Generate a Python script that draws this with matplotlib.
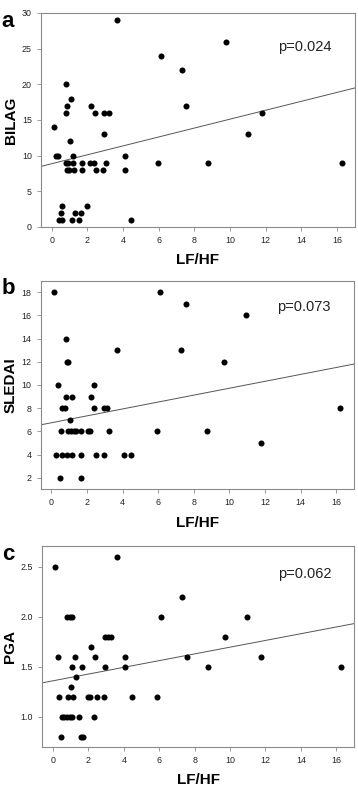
import numpy as np
import matplotlib
matplotlib.use("Agg")
import matplotlib.pyplot as plt

plt.rcParams['font.family'] = ['Liberation Sans', 'DejaVu Sans']

# panel a: LF/HF vs BILAG
lfhf_a = [0.15, 3.65, 6.1, 9.75, 7.3, 7.55, 11.8, 11.0, 8.75, 16.25, 5.95, 4.47,
          4.1, 4.1, 0.78, 1.06, 0.87, 0.78, 2.18, 2.4, 2.94, 3.24, 2.94, 1.0,
          0.25, 0.37, 1.19, 0.78, 0.93, 1.19, 1.68, 2.16, 2.36, 3.03, 0.85, 0.97,
          1.25, 1.71, 2.51, 2.9, 0.59, 1.99, 0.5, 1.3, 1.62, 0.41, 0.59, 1.12, 1.51]
bilag = [14, 29, 24, 26, 22, 17, 16, 13, 9, 9, 9, 1,
         10, 8, 20, 18, 17, 16, 17, 16, 16, 16, 13, 12,
         10, 10, 10, 9, 9, 9, 9, 9, 9, 9, 8, 8,
         8, 8, 8, 8, 3, 3, 2, 2, 2, 1, 1, 1, 1]

# panel b: LF/HF vs SLEDAI
lfhf_b = [0.15, 6.1, 7.57, 10.95, 3.66, 7.3, 9.72, 0.8, 0.85, 0.92, 0.37, 2.42,
          0.83, 1.17, 2.2, 0.61, 0.74, 2.37, 2.96, 3.11, 16.2, 1.07,
          0.54, 0.96, 1.1, 1.25, 1.4, 1.65, 2.05, 2.15, 3.24, 5.94, 8.75, 11.75,
          0.28, 0.61, 0.85, 1.17, 1.66, 2.5, 2.96, 4.09, 4.46, 0.46, 1.68]
sledai = [18, 18, 17, 16, 13, 13, 12, 14, 12, 12, 10, 10,
          9, 9, 9, 8, 8, 8, 8, 8, 8, 7,
          6, 6, 6, 6, 6, 6, 6, 6, 6, 6, 6, 5,
          4, 4, 4, 4, 4, 4, 4, 4, 4, 2, 2]

# panel c: LF/HF vs PGA
lfhf_c = [0.13, 3.6, 0.8, 0.95, 1.1, 6.1, 7.3, 9.72, 10.95, 2.95, 3.1, 3.25,
          2.15, 0.28, 1.22, 2.39, 4.06, 7.55, 11.75, 1.1, 1.65, 2.93, 4.07, 8.75,
          16.25, 1.28, 1.04, 0.35, 0.84, 1.15, 1.99, 2.1, 2.47, 2.9, 4.45, 5.9,
          0.5, 0.65, 0.8, 0.95, 1.1, 1.49, 2.32, 0.45, 1.6, 1.67]
pga = [2.5, 2.6, 2.0, 2.0, 2.0, 2.0, 2.2, 1.8, 2.0, 1.8, 1.8, 1.8,
       1.7, 1.6, 1.6, 1.6, 1.6, 1.6, 1.6, 1.5, 1.5, 1.5, 1.5, 1.5,
       1.5, 1.4, 1.3, 1.2, 1.2, 1.2, 1.2, 1.2, 1.2, 1.2, 1.2, 1.2,
       1.0, 1.0, 1.0, 1.0, 1.0, 1.0, 1.0, 0.8, 0.8, 0.8]

# fitted lines (intercept, slope)
fit_a = [8.87, 0.625]
fit_b = [6.74, 0.298]
fit_c = [1.36, 0.0337]

panels = [
    ("a", lfhf_a, bilag, fit_a, "BILAG", "p=0.024", (0, 30), np.arange(0, 31, 5), "%d",
     [0.1145, 0.7112, 0.877, 0.2723], 0.842),
    ("b", lfhf_b, sledai, fit_b, "SLEDAI", "p=0.073", (1, 19), np.arange(2, 19, 2), "%d",
     [0.1137, 0.3775, 0.875, 0.2654], 0.874),
    ("c", lfhf_c, pga, fit_c, "PGA", "p=0.062", (0.7, 2.71), [1.0, 1.5, 2.0, 2.5], "%.1f",
     [0.1182, 0.0500, 0.8707, 0.2553], 0.86),
]

fig = plt.figure(figsize=(3.58, 7.86), dpi=100)

for letter, x, y, fit, ylab, ptxt, ylim, yticks, yfmt, rect, py in panels:
    ax = fig.add_axes(rect)
    ax.scatter(x, y, s=19, color="black", zorder=3, linewidths=0)
    xs = np.array([-0.6, 17])
    ax.plot(xs, fit[0] + fit[1] * xs, color="#555555", lw=0.7, zorder=2)
    ax.set_xlim(-0.6, 17)
    ax.set_ylim(*ylim)
    ax.set_xticks(np.arange(0, 17, 2))
    ax.set_yticks(yticks)
    ax.yaxis.set_major_formatter(matplotlib.ticker.FormatStrFormatter(yfmt))
    for s in ax.spines.values():
        s.set_color("#8a8a8a")
        s.set_linewidth(0.8)
    ax.tick_params(direction="out", length=3, width=0.6, color="#8a8a8a",
                   labelsize=6.4, labelcolor="#222222", pad=3.5)
    ax.set_xlabel("LF/HF", fontsize=11, fontweight="bold", labelpad=6)
    ax.set_ylabel(ylab, fontsize=11, fontweight="bold", labelpad=3)
    ax.text(0.755, py, ptxt, transform=ax.transAxes, fontsize=10.5,
            ha="left", va="center", color="#222222")
    # panel letter
    fig.text(0.005, rect[1] + rect[3] + 0.003, letter, fontsize=16,
             fontweight="bold", ha="left", va="top")

fig.savefig("out.png", dpi=100)
